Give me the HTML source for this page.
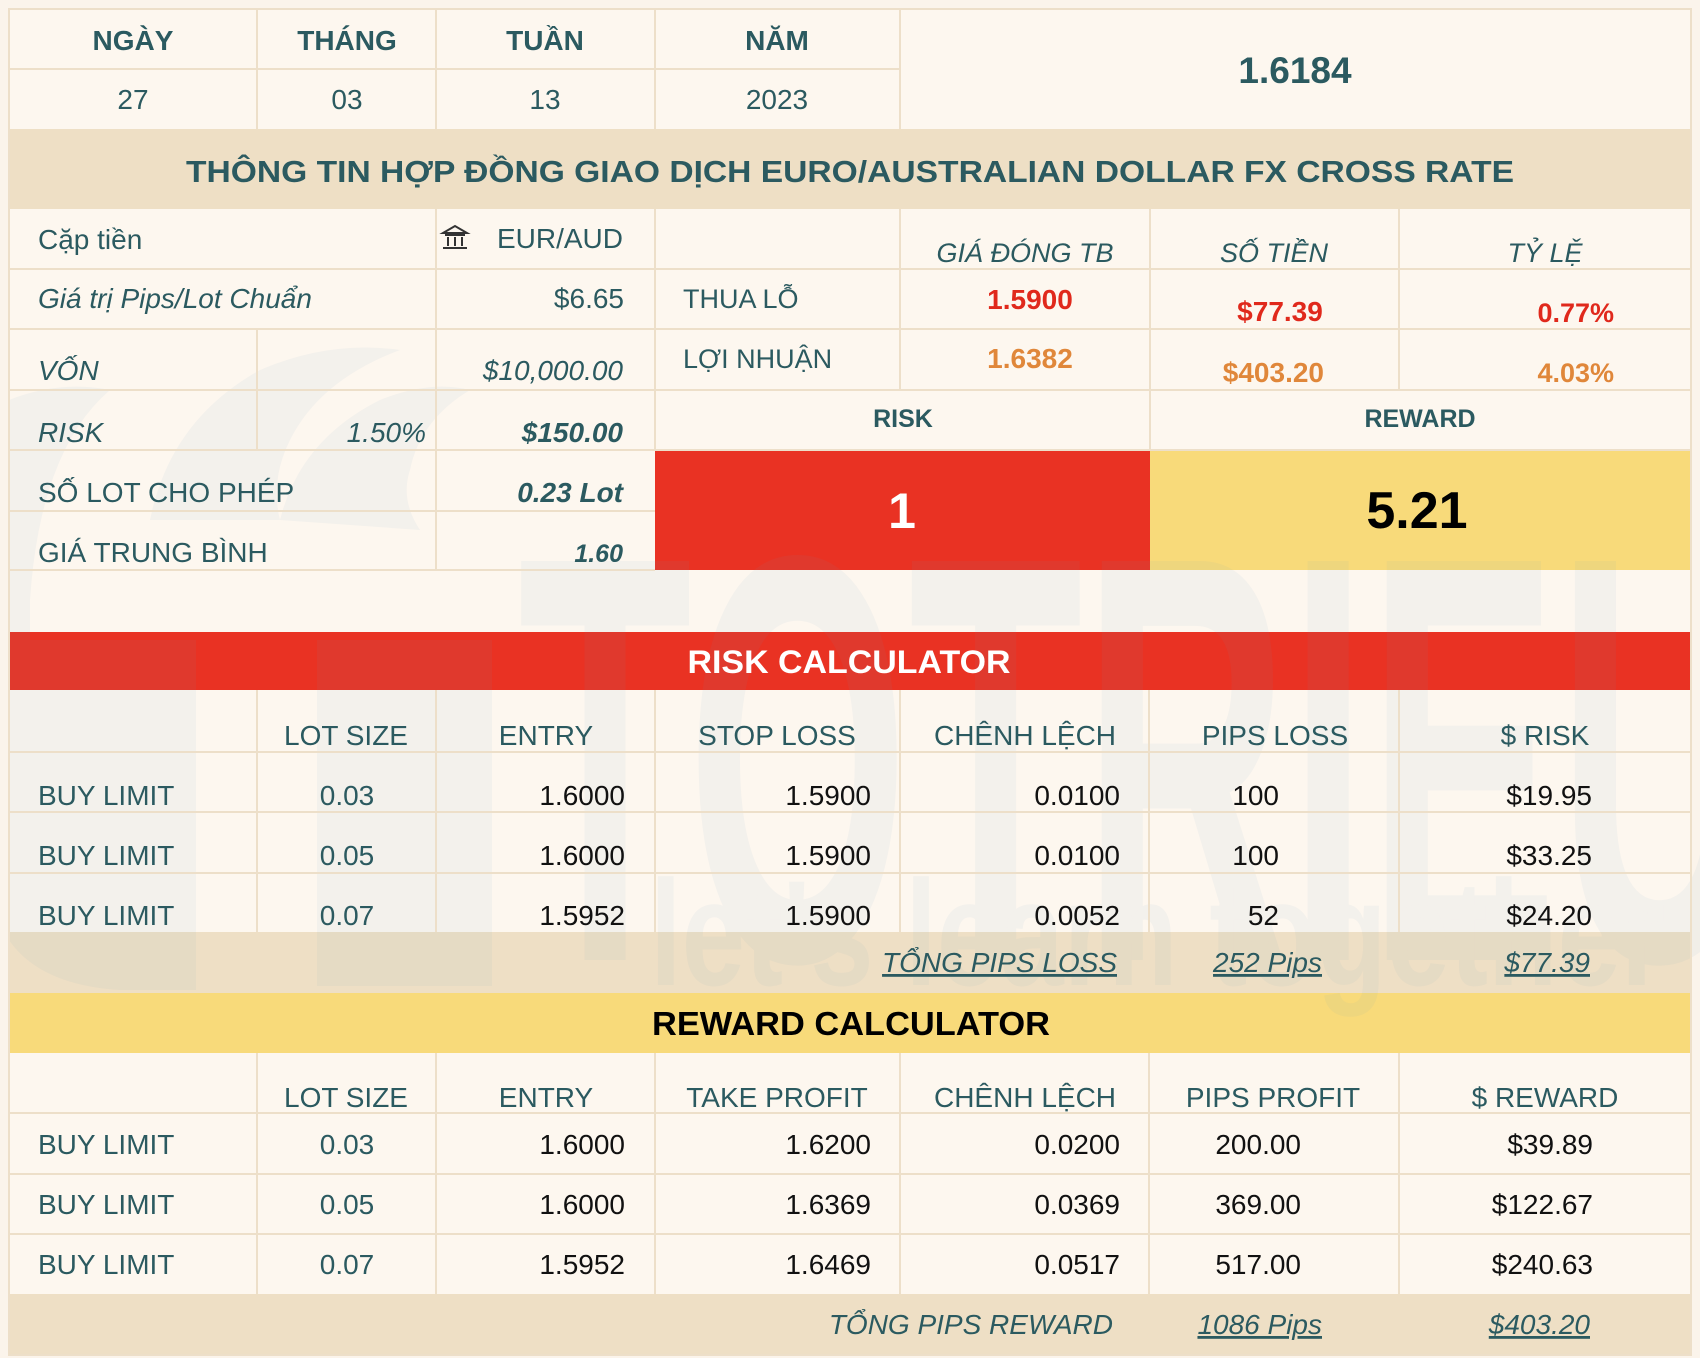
<!DOCTYPE html>
<html><head><meta charset="utf-8">
<style>
html,body{margin:0;padding:0;background:#FBF4EB;}
svg{display:block;}
text{font-family:"Liberation Sans",Arial,sans-serif;}
.t{fill:#2B5A60;font-size:28px;}
.k{fill:#111;font-size:28px;}
.b{font-weight:bold;}
.i{font-style:italic;}
.m{text-anchor:middle;}
.e{text-anchor:end;}
.u{text-decoration:underline;}
</style></head>
<body>
<svg width="1700" height="1358" viewBox="0 0 1700 1358" xmlns="http://www.w3.org/2000/svg">
<rect x="0" y="0" width="1700" height="1358" fill="#FBF4EB"/>
<rect x="9" y="9" width="1682" height="1346" fill="#FDF7EF"/>
<!-- bands -->
<rect x="9" y="129" width="1682" height="80" fill="#EEDFC5"/>
<rect x="655" y="450" width="495" height="120" fill="#E93223"/>
<rect x="1150" y="450" width="541" height="120" fill="#F8DA7A"/>
<rect x="9" y="632" width="1682" height="58" fill="#E93223"/>
<rect x="9" y="932" width="1682" height="61" fill="#EEDFC5"/>
<rect x="9" y="993" width="1682" height="60" fill="#F8DA7A"/>
<rect x="9" y="1294" width="1682" height="61" fill="#EEDFC5"/>

<!-- watermark -->
<g opacity="0.07" fill="#719DC7">
  <text x="0" y="0" font-weight="bold" font-size="500" transform="translate(518,960) scale(0.57,1.16)">TOTRIEU</text>
  <text x="0" y="0" font-weight="bold" font-size="150" transform="translate(650,985) scale(0.76,1)">let's learn together</text>
  <path d="M9 640 L196 640 L196 990 L120 990 Q40 985 9 940 Z"/>
  <rect x="317" y="640" width="175" height="346"/>
  <path d="M150 520 Q170 420 260 370 Q330 340 400 350 Q320 380 290 440 Q270 480 280 520 Z"/>
  <path d="M280 520 Q300 440 380 400 Q430 380 470 390 Q420 420 410 470 Q400 500 420 530 Z"/>
  <path d="M9 400 Q60 380 110 390 Q40 450 30 600 L30 640 L9 640 Z"/>
</g>

<!-- grid lines -->
<g stroke="#EDDFC9" stroke-width="2" fill="none">
  <rect x="9" y="9" width="1682" height="1346"/>
  <line x1="9" y1="69" x2="900" y2="69"/>
  <line x1="257" y1="9" x2="257" y2="129"/>
  <line x1="436" y1="9" x2="436" y2="129"/>
  <line x1="655" y1="9" x2="655" y2="129"/>
  <line x1="900" y1="9" x2="900" y2="129"/>
  <line x1="9" y1="269" x2="1691" y2="269"/>
  <line x1="9" y1="329" x2="1691" y2="329"/>
  <line x1="9" y1="390" x2="1691" y2="390"/>
  <line x1="9" y1="450" x2="1691" y2="450"/>
  <line x1="9" y1="511" x2="655" y2="511"/>
  <line x1="9" y1="570" x2="655" y2="570"/>
  <line x1="436" y1="209" x2="436" y2="570"/>
  <line x1="257" y1="329" x2="257" y2="450"/>
  <line x1="655" y1="209" x2="655" y2="450"/>
  <line x1="900" y1="209" x2="900" y2="390"/>
  <line x1="1150" y1="209" x2="1150" y2="450"/>
  <line x1="1399" y1="209" x2="1399" y2="390"/>
  <line x1="9" y1="752" x2="1691" y2="752"/>
  <line x1="9" y1="812" x2="1691" y2="812"/>
  <line x1="9" y1="873" x2="1691" y2="873"/>
  <line x1="257" y1="690" x2="257" y2="932"/>
  <line x1="436" y1="690" x2="436" y2="932"/>
  <line x1="655" y1="690" x2="655" y2="932"/>
  <line x1="900" y1="690" x2="900" y2="932"/>
  <line x1="1149" y1="690" x2="1149" y2="932"/>
  <line x1="1399" y1="690" x2="1399" y2="932"/>
  <line x1="9" y1="1113" x2="1691" y2="1113"/>
  <line x1="9" y1="1174" x2="1691" y2="1174"/>
  <line x1="9" y1="1234" x2="1691" y2="1234"/>
  <line x1="257" y1="1053" x2="257" y2="1294"/>
  <line x1="436" y1="1053" x2="436" y2="1294"/>
  <line x1="655" y1="1053" x2="655" y2="1294"/>
  <line x1="900" y1="1053" x2="900" y2="1294"/>
  <line x1="1149" y1="1053" x2="1149" y2="1294"/>
  <line x1="1399" y1="1053" x2="1399" y2="1294"/>
</g>

<!-- top date row -->
<text class="t b m" x="133" y="50">NGÀY</text>
<text class="t b m" x="347" y="50">THÁNG</text>
<text class="t b m" x="545" y="50">TUẦN</text>
<text class="t b m" x="777" y="50">NĂM</text>
<text class="t m" x="133" y="109">27</text>
<text class="t m" x="347" y="109">03</text>
<text class="t m" x="545" y="109">13</text>
<text class="t m" x="777" y="109">2023</text>
<text class="t b m" x="1295" y="83" style="font-size:37px">1.6184</text>
<text class="t b m" x="850" y="182" style="font-size:31px" textLength="1328" lengthAdjust="spacingAndGlyphs">THÔNG TIN HỢP ĐỒNG GIAO DỊCH EURO/AUSTRALIAN DOLLAR FX CROSS RATE</text>

<!-- left panel -->
<text class="t" x="38" y="249">Cặp tiền</text>
<g stroke="#333" stroke-width="2" fill="none">
  <path d="M443 233 L455 226 L467 233 Z"/>
  <line x1="445" y1="235" x2="465" y2="235"/>
  <line x1="448" y1="237" x2="448" y2="246"/>
  <line x1="455" y1="237" x2="455" y2="246"/>
  <line x1="462" y1="237" x2="462" y2="246"/>
  <line x1="443" y1="248" x2="467" y2="248"/>
</g>
<text class="t e" x="623" y="248">EUR/AUD</text>
<text class="t i" x="38" y="308">Giá trị Pips/Lot Chuẩn</text>
<text class="t e" x="624" y="308">$6.65</text>
<text class="t i" x="38" y="380">VỐN</text>
<text class="t i e" x="623" y="380">$10,000.00</text>
<text class="t i" x="38" y="442">RISK</text>
<text class="t i e" x="426" y="442">1.50%</text>
<text class="t i b e" x="623" y="442">$150.00</text>
<text class="t" x="38" y="502">SỐ LOT CHO PHÉP</text>
<text class="t i b e" x="623" y="502">0.23 Lot</text>
<text class="t" x="38" y="562">GIÁ TRUNG BÌNH</text>
<text class="t i b e" x="623" y="562" style="font-size:25px">1.60</text>

<!-- right panel -->
<text class="t i m" x="1025" y="262" style="font-size:27px">GIÁ ĐÓNG TB</text>
<text class="t i m" x="1274" y="262" style="font-size:27px">SỐ TIỀN</text>
<text class="t i m" x="1545" y="262" style="font-size:27px">TỶ LỆ</text>
<text class="t" x="683" y="308" style="font-size:27px">THUA LỖ</text>
<text class="b m" x="1030" y="309" style="font-size:28px;fill:#E0291C">1.5900</text>
<text class="b m" x="1280" y="321" style="font-size:28px;fill:#E0291C">$77.39</text>
<text class="b e" x="1614" y="322" style="font-size:27px;fill:#E0291C">0.77%</text>
<text class="t" x="683" y="368" style="font-size:27px">LỢI NHUẬN</text>
<text class="b m" x="1030" y="368" style="font-size:28px;fill:#E0873A">1.6382</text>
<text class="b e" x="1324" y="382" style="font-size:28px;fill:#E0873A">$403.20</text>
<text class="b e" x="1614" y="382" style="font-size:27px;fill:#E0873A">4.03%</text>
<text class="t b m" x="903" y="427" style="font-size:25px">RISK</text>
<text class="t b m" x="1420" y="427" style="font-size:25px">REWARD</text>
<text class="b m" x="902" y="528" style="font-size:50px;fill:#fff">1</text>
<text class="b m" x="1417" y="528" style="font-size:52px;fill:#000">5.21</text>

<!-- risk calculator -->
<text class="b m" x="849" y="673" style="font-size:32px;fill:#fff" textLength="323" lengthAdjust="spacingAndGlyphs">RISK CALCULATOR</text>
<text class="t m" x="346" y="745">LOT SIZE</text>
<text class="t m" x="546" y="745">ENTRY</text>
<text class="t m" x="777" y="745">STOP LOSS</text>
<text class="t m" x="1025" y="745">CHÊNH LỆCH</text>
<text class="t m" x="1275" y="745">PIPS LOSS</text>
<text class="t m" x="1545" y="745">$ RISK</text>

<text class="t" x="38" y="805">BUY LIMIT</text>
<text class="t m" x="347" y="805">0.03</text>
<text class="k e" x="625" y="805">1.6000</text>
<text class="k e" x="871" y="805">1.5900</text>
<text class="k e" x="1120" y="805">0.0100</text>
<text class="k e" x="1279" y="805">100</text>
<text class="k e" x="1592" y="805">$19.95</text>

<text class="t" x="38" y="865">BUY LIMIT</text>
<text class="t m" x="347" y="865">0.05</text>
<text class="k e" x="625" y="865">1.6000</text>
<text class="k e" x="871" y="865">1.5900</text>
<text class="k e" x="1120" y="865">0.0100</text>
<text class="k e" x="1279" y="865">100</text>
<text class="k e" x="1592" y="865">$33.25</text>

<text class="t" x="38" y="925">BUY LIMIT</text>
<text class="t m" x="347" y="925">0.07</text>
<text class="k e" x="625" y="925">1.5952</text>
<text class="k e" x="871" y="925">1.5900</text>
<text class="k e" x="1120" y="925">0.0052</text>
<text class="k e" x="1279" y="925">52</text>
<text class="k e" x="1592" y="925">$24.20</text>

<text class="t i u e" x="1117" y="972">TỔNG PIPS LOSS</text>
<text class="t i u e" x="1322" y="972">252 Pips</text>
<text class="t i u e" x="1590" y="972">$77.39</text>

<!-- reward calculator -->
<text class="b m" x="851" y="1035" style="font-size:33px;fill:#000" textLength="398" lengthAdjust="spacingAndGlyphs">REWARD CALCULATOR</text>
<text class="t m" x="346" y="1107">LOT SIZE</text>
<text class="t m" x="546" y="1107">ENTRY</text>
<text class="t m" x="777" y="1107">TAKE PROFIT</text>
<text class="t m" x="1025" y="1107">CHÊNH LỆCH</text>
<text class="t m" x="1273" y="1107">PIPS PROFIT</text>
<text class="t m" x="1545" y="1107">$ REWARD</text>

<text class="t" x="38" y="1154">BUY LIMIT</text>
<text class="t m" x="347" y="1154">0.03</text>
<text class="k e" x="625" y="1154">1.6000</text>
<text class="k e" x="871" y="1154">1.6200</text>
<text class="k e" x="1120" y="1154">0.0200</text>
<text class="k e" x="1301" y="1154">200.00</text>
<text class="k e" x="1593" y="1154">$39.89</text>

<text class="t" x="38" y="1214">BUY LIMIT</text>
<text class="t m" x="347" y="1214">0.05</text>
<text class="k e" x="625" y="1214">1.6000</text>
<text class="k e" x="871" y="1214">1.6369</text>
<text class="k e" x="1120" y="1214">0.0369</text>
<text class="k e" x="1301" y="1214">369.00</text>
<text class="k e" x="1593" y="1214">$122.67</text>

<text class="t" x="38" y="1274">BUY LIMIT</text>
<text class="t m" x="347" y="1274">0.07</text>
<text class="k e" x="625" y="1274">1.5952</text>
<text class="k e" x="871" y="1274">1.6469</text>
<text class="k e" x="1120" y="1274">0.0517</text>
<text class="k e" x="1301" y="1274">517.00</text>
<text class="k e" x="1593" y="1274">$240.63</text>

<text class="t i e" x="1113" y="1334">TỔNG PIPS REWARD</text>
<text class="t i u e" x="1322" y="1334">1086 Pips</text>
<text class="t i u e" x="1590" y="1334">$403.20</text>
</svg>
</body></html>
